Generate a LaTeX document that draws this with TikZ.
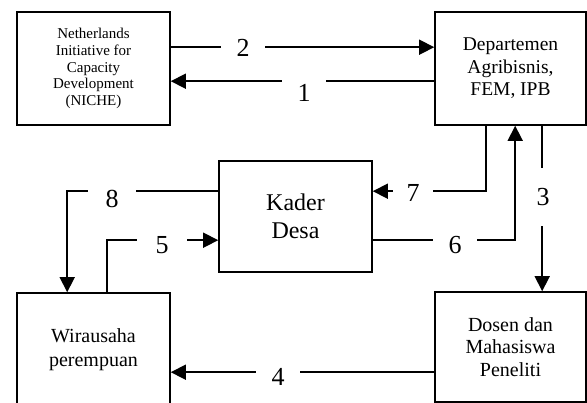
\documentclass[tikz,border=0pt]{standalone}
\usepackage{fontspec}
\setmainfont{Liberation Serif}
\usetikzlibrary{arrows.meta}

\tikzset{
  box/.style={draw, line width=1.6pt, align=center, inner sep=0pt},
  arr/.style={line width=1.6pt, -{Triangle[length=15pt,width=15pt]}},
  num/.style={fill=white, inner sep=0pt, minimum width=44pt, minimum height=44pt,
              font=\fontsize{26}{30}\selectfont}
}

\begin{document}
\begin{tikzpicture}[x=1pt, y=-1pt]

  \clip (0,0) rectangle (587,403);

  % ════ kotak ════
  \node[box, minimum width=153pt, minimum height=113pt,
        font=\fontsize{15}{16.8}\selectfont] (niche) at (93.5,68.5)
        {Netherlands\\Initiative for\\Capacity\\Development\\(NICHE)};
  \node[box, minimum width=151pt, minimum height=113pt,
        font=\fontsize{19.5}{22.5}\selectfont] (dept) at (510.5,68.5)
        {Departemen\\Agribisnis,\\FEM, IPB};
  \node[box, minimum width=153pt, minimum height=111pt,
        font=\fontsize{24}{28}\selectfont] (kader) at (295.5,216.5)
        {Kader\\Desa};
  \node[box, minimum width=153pt, minimum height=113pt,
        font=\fontsize{20}{24}\selectfont] (wira) at (93.5,349.5)
        {Wirausaha\\perempuan};
  \node[box, minimum width=151pt, minimum height=110pt,
        font=\fontsize{20}{22.5}\selectfont] (dosen) at (510.5,347)
        {Dosen dan\\Mahasiswa\\Peneliti};

  % ════ panah ════
  \draw[arr] ([yshift=-36pt]niche.north east) coordinate (n2) -- (n2 -| dept.west);
  \draw[arr] ([yshift=-70pt]dept.north west) coordinate (d1) -- (d1 -| niche.east);
  \draw[arr] ([xshift=108pt]dept.south west) coordinate (d3) -- (d3 |- dosen.north);
  \draw[arr] ([yshift=-81pt]dosen.north west) coordinate (p4) -- (p4 -| wira.east);
  \draw[arr] ([xshift=91pt]wira.north west) |- ([yshift=-80pt]kader.north west);
  \draw[arr] ([yshift=-80pt]kader.north east) -| ([xshift=81pt]dept.south west);
  \draw[arr] ([xshift=52pt]dept.south west) |- ([yshift=-31pt]kader.north east);
  \draw[arr] ([yshift=-31pt]kader.north west) -| ([xshift=51pt]wira.north west);

  % ════ nomor ════
  % fill=white memutus garis di bawah angka
  \node[num] (l1) at (304,93) {1};
  \node[num] (l2) at (243,48) {2};
  \node[num, minimum height=58pt] (l3) at (543,197) {3};
  \node[num] (l4) at (278,377) {4};
  \node[num, minimum width=50pt] (l5) at (162,245) {5};
  \node[num] (l6) at (455,245) {6};
  \node[num, minimum width=40pt] (l7) at (413,193) {7};
  \node[num, minimum width=48pt] (l8) at (112,199) {8};

\end{tikzpicture}
\end{document}
